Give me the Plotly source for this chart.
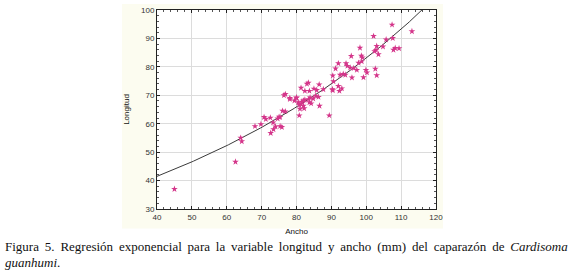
import numpy as np
import plotly.graph_objects as go

# Data: Ancho (x) vs Longitud (y)
ancho = [45, 62.5, 64, 64.3,
         68.1, 69.8, 70.7, 71.2, 72.5, 73.3, 72.6, 73.4, 74, 75.3, 75.8, 74.6, 75, 75.3,
         76, 76.8, 76.4, 76.8, 78.1, 78.1, 79.4, 80, 80.5, 80.8, 81.5, 82.4, 80.8, 81, 82,
         82.2, 81.3, 83.7, 84.8, 86.3, 85.5, 83.5, 84.2, 86.6, 80, 83.9, 82, 89.4,
         81.3, 82.4, 83.7, 85, 85.8, 83.4, 83, 86.5, 87.7, 90.3, 92, 93, 92.3, 90.4,
         90.6, 90.4, 92.5, 93.4, 94, 95.9, 91.2, 92, 94.2, 94.6, 95.4, 96.4, 97.3,
         95.7, 98.2, 98.6, 98.9, 97.8, 98.7, 99.9, 100.2, 102.6, 103, 99.2,
         102.4, 102.8, 103.5, 102.1, 103, 104.8, 105.7, 107.6, 108.3, 109.4, 107.8,
         107.4, 113.1]
longitud = [37, 46.6, 55, 53.8,
            59.1, 59.8, 62.3, 61.6, 62.1, 60.4, 56.7, 58, 59, 59.1, 58.8, 61.8, 62.4, 62.3,
            64.5, 64.3, 70, 70.4, 69, 68.6, 68.1, 69.1, 67.5, 66.6, 67.7, 68.4, 62.9, 65.2, 66.3,
            65.4, 66.9, 67.5, 68.8, 69.4, 69.8, 68.6, 67.1, 66.3, 69.2, 69.2, 68.1, 62.9,
            72.6, 71.5, 71.5, 72.3, 71.8, 74.4, 74, 73.8, 72.1, 72.1, 73.2, 72.4, 71.5, 71.7,
            74.9, 76.9, 77.2, 77.5, 77.2, 76.2, 79.4, 81.2, 81.2, 80.3, 79.7, 79.5, 78.9,
            83.8, 86.7, 83.9, 83.3, 81.4, 81.9, 78.9, 78, 79.3, 77, 76.3,
            85.5, 85.9, 84.4, 90.8, 87.3, 87.1, 89.6, 90.1, 86.6, 86.5, 86,
            94.8, 92.5]

# Exponential regression parameters (Longitud = a * exp(b * Ancho))
fit_a = 26.12
fit_b = 0.01157

x_ticks = [40, 50, 60, 70, 80, 90, 100, 110, 120]
y_ticks = [30, 40, 50, 60, 70, 80, 90, 100]

caption_line1_words = ["Figura", "5.", "Regresión", "exponencial", "para", "la", "variable",
                       "longitud", "y", "ancho", "(mm)", "del", "caparazón", "de", "<i>Cardisoma</i>"]
caption_line2 = "<i>guanhumi</i>."

xf = np.linspace(40, 120, 200)
yf = fit_a * np.exp(fit_b * xf)

fig = go.Figure()
fig.add_trace(go.Scatter(x=xf, y=yf, mode="lines",
                         line=dict(color="#3a3a3a", width=1), hoverinfo="skip",
                         showlegend=False))
fig.add_trace(go.Scatter(x=ancho, y=longitud, mode="markers",
                         marker=dict(symbol="star", size=5, color="#d4358a",
                                     line=dict(width=0)),
                         showlegend=False))

L, R, T, B = 157, 132, 6, 66
W, H = 568, 275
pw, ph = W - L - R, H - T - B

def px_to_paper_x(p):
    return (p - L) / pw

def px_to_paper_y(p):
    return (H - B - p) / ph

shapes = [
    dict(type="rect", xref="paper", yref="paper", layer="below",
         x0=px_to_paper_x(122), x1=px_to_paper_x(443),
         y0=px_to_paper_y(229), y1=px_to_paper_y(0),
         fillcolor="#fcfcf0", line=dict(width=0)),
    dict(type="rect", xref="paper", yref="paper", layer="below",
         x0=0, x1=1, y0=0, y1=1, fillcolor="white", line=dict(width=0)),
]

axis_font = dict(family="Liberation Sans, Arial, sans-serif", size=8, color="#333333")
title_font = dict(family="Liberation Sans, Arial, sans-serif", size=8, color="#111111")
cap_font = dict(family="Liberation Serif", size=13, color="#111111")

gap = " \u2009"
line1 = gap.join(caption_line1_words)

fig.update_layout(
    width=W, height=H,
    margin=dict(l=L, r=R, t=T, b=B),
    paper_bgcolor="white",
    plot_bgcolor="white",
    shapes=shapes,
    xaxis=dict(range=[40, 120], tickvals=x_ticks, ticktext=[str(v) for v in x_ticks],
               showgrid=True, gridcolor="#dcdcdc", gridwidth=1,
               showline=True, linecolor="#222222", linewidth=1, mirror="ticks",
               ticks="inside", ticklen=3, tickcolor="#222222",
               minor=dict(ticks="inside", ticklen=2, dtick=2, tickcolor="#555555", showgrid=False),
               tickfont=axis_font, zeroline=False,
               title=dict(text="Ancho", font=title_font, standoff=7)),
    yaxis=dict(range=[30, 100], tickvals=y_ticks, ticktext=[str(v) for v in y_ticks],
               showgrid=True, gridcolor="#dcdcdc", gridwidth=1,
               showline=True, linecolor="#222222", linewidth=1, mirror="ticks",
               ticks="inside", ticklen=3, tickcolor="#222222",
               minor=dict(ticks="inside", ticklen=2, dtick=2, tickcolor="#555555", showgrid=False),
               tickfont=axis_font, zeroline=False,
               title=dict(text="Longitud", font=title_font, standoff=10)),
    annotations=[
        dict(xref="paper", yref="paper", x=px_to_paper_x(3), y=px_to_paper_y(247),
             xanchor="left", yanchor="middle", showarrow=False, align="left",
             text=line1, font=cap_font),
        dict(xref="paper", yref="paper", x=px_to_paper_x(3), y=px_to_paper_y(264),
             xanchor="left", yanchor="middle", showarrow=False, align="left",
             text=caption_line2, font=cap_font),
    ],
)

fig.write_html("out.html", config={"displayModeBar": False},
               post_script="document.body.style.margin='0';")
